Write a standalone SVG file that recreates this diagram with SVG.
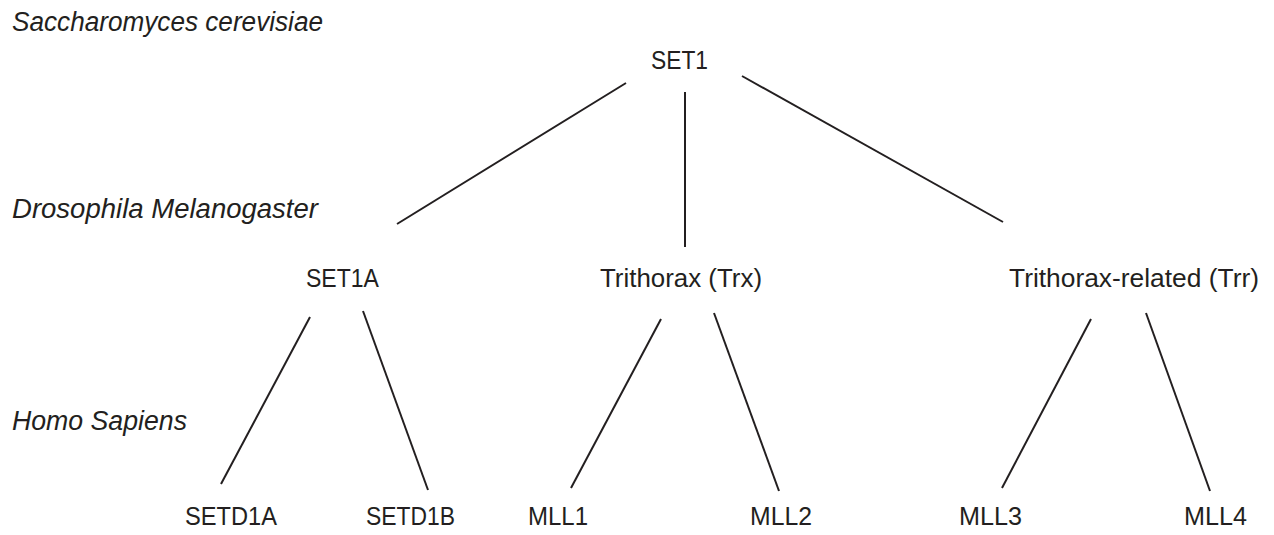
<svg xmlns="http://www.w3.org/2000/svg" width="1274" height="535" viewBox="0 0 1274 535">
<style>
.bg{fill:#ffffff}
.lbl{font-family:"Liberation Sans",Arial,sans-serif;font-size:26px;fill:#231f20}
.sp{font-family:"Liberation Sans",Arial,sans-serif;font-size:27px;font-style:italic;fill:#231f20}
.edge{stroke:#231f20;stroke-width:2;fill:none;stroke-linecap:butt}
</style>
<rect class="bg" x="0" y="0" width="1274" height="535"/>
<g id="species">
<text class="sp" x="12" y="31" textLength="311" lengthAdjust="spacingAndGlyphs">Saccharomyces cerevisiae</text>
<text class="sp" x="12" y="218" textLength="306" lengthAdjust="spacingAndGlyphs">Drosophila Melanogaster</text>
<text class="sp" x="12" y="430" textLength="175" lengthAdjust="spacingAndGlyphs">Homo Sapiens</text>
</g>
<g id="connectors">
<line class="edge" x1="626" y1="83" x2="397" y2="224"/>
<line class="edge" x1="685" y1="92" x2="685" y2="247"/>
<line class="edge" x1="742" y1="76" x2="1003" y2="222"/>
<line class="edge" x1="310" y1="317" x2="221" y2="484"/>
<line class="edge" x1="363" y1="311" x2="428" y2="490"/>
<line class="edge" x1="661" y1="319" x2="571" y2="488"/>
<line class="edge" x1="714" y1="313" x2="779" y2="491"/>
<line class="edge" x1="1091" y1="319" x2="1002" y2="488"/>
<line class="edge" x1="1146" y1="313" x2="1210" y2="491"/>
</g>
<g id="node-set1"><text class="lbl" x="651" y="69" textLength="57" lengthAdjust="spacingAndGlyphs">SET1</text></g>
<g id="node-set1a"><text class="lbl" x="306" y="287" textLength="73" lengthAdjust="spacingAndGlyphs">SET1A</text></g>
<g id="node-trx"><text class="lbl" x="600" y="287" textLength="162" lengthAdjust="spacingAndGlyphs">Trithorax (Trx)</text></g>
<g id="node-trr"><text class="lbl" x="1009" y="287" textLength="250" lengthAdjust="spacingAndGlyphs">Trithorax-related (Trr)</text></g>
<g id="node-setd1a"><text class="lbl" x="185" y="525" textLength="92" lengthAdjust="spacingAndGlyphs">SETD1A</text></g>
<g id="node-setd1b"><text class="lbl" x="366" y="525" textLength="89" lengthAdjust="spacingAndGlyphs">SETD1B</text></g>
<g id="node-mll1"><text class="lbl" x="528" y="525" textLength="60" lengthAdjust="spacingAndGlyphs">MLL1</text></g>
<g id="node-mll2"><text class="lbl" x="750" y="525" textLength="62" lengthAdjust="spacingAndGlyphs">MLL2</text></g>
<g id="node-mll3"><text class="lbl" x="959" y="525" textLength="63" lengthAdjust="spacingAndGlyphs">MLL3</text></g>
<g id="node-mll4"><text class="lbl" x="1184" y="525" textLength="63" lengthAdjust="spacingAndGlyphs">MLL4</text></g>
</svg>
